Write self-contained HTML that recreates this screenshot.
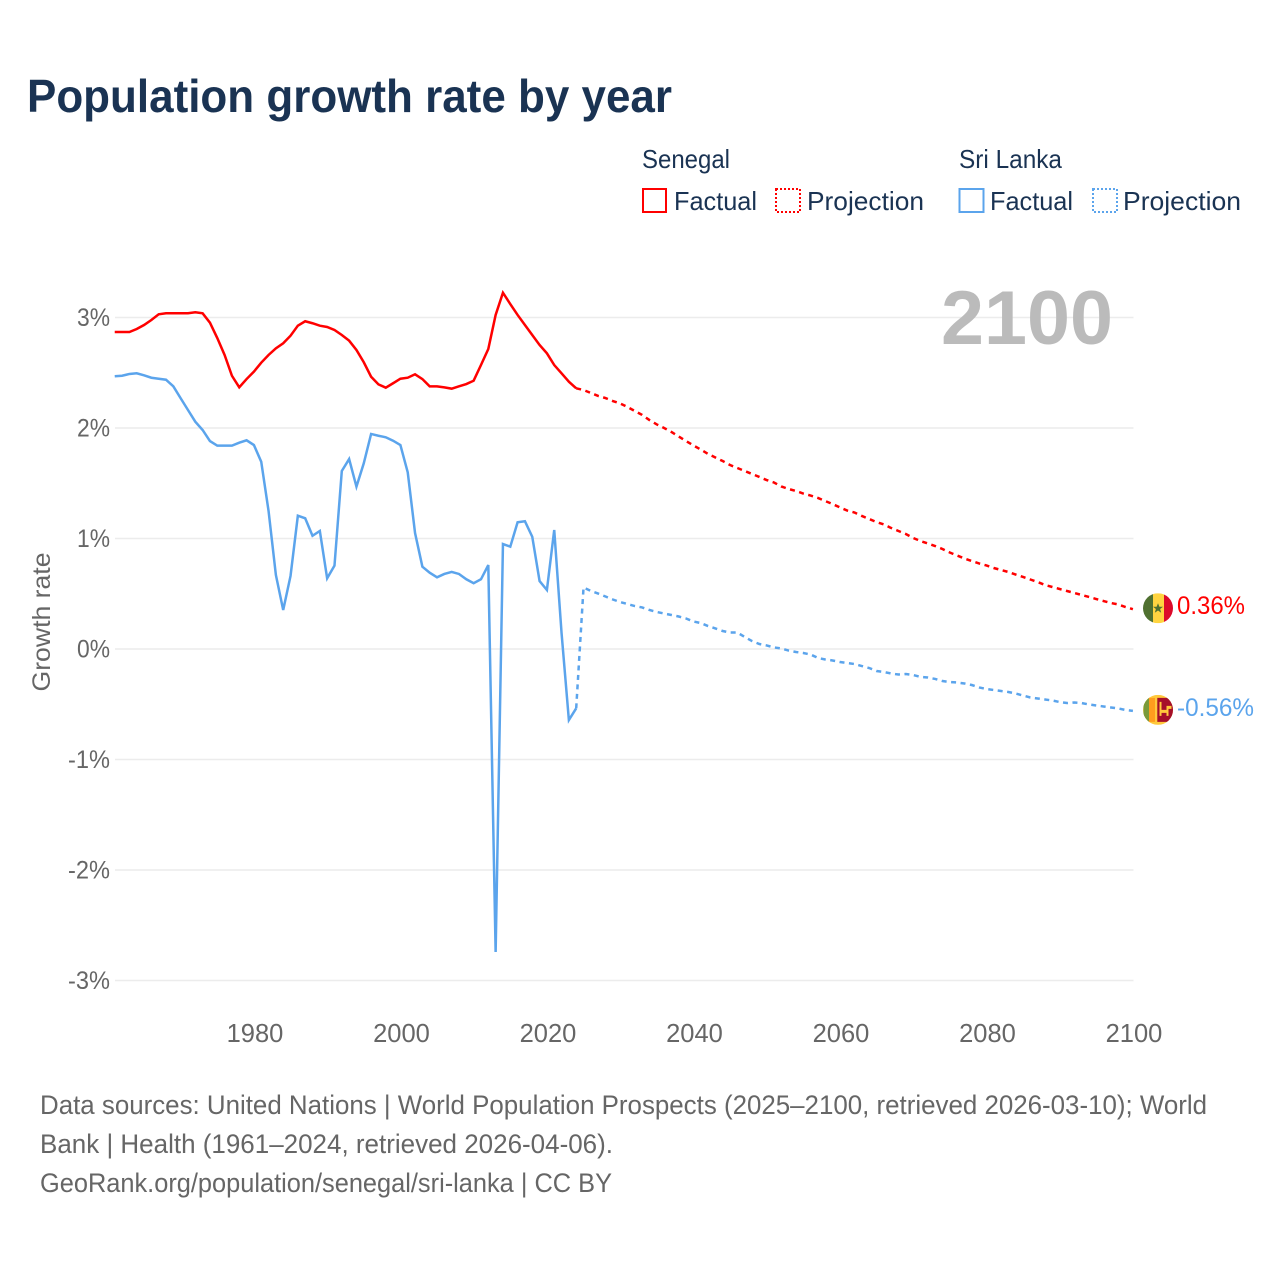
<!DOCTYPE html>
<html lang="en">
<head>
<meta charset="utf-8">
<title>Population growth rate by year</title>
<style>
html,body{margin:0;padding:0;background:#fff;}
svg{display:block;font-family:"Liberation Sans",sans-serif;}
</style>
</head>
<body>
<svg id="chart" width="1280" height="1280" viewBox="0 0 1280 1280" xmlns="http://www.w3.org/2000/svg">
  <rect x="0" y="0" width="1280" height="1280" fill="#ffffff"/>
  <text x="27" y="112" font-size="46" font-weight="700" fill="#1a3353" textLength="645" lengthAdjust="spacingAndGlyphs">Population growth rate by year</text>

  <g font-size="26" fill="#1a3353">
    <text x="642" y="168" textLength="88" lengthAdjust="spacingAndGlyphs">Senegal</text>
    <rect x="643" y="189" width="23" height="23" fill="none" stroke="#ff0000" stroke-width="2"/>
    <text x="674" y="210" textLength="83" lengthAdjust="spacingAndGlyphs">Factual</text>
    <rect x="776" y="189" width="24" height="23" fill="none" stroke="#ff0000" stroke-width="2" stroke-dasharray="2 2"/>
    <text x="807" y="210" textLength="117" lengthAdjust="spacingAndGlyphs">Projection</text>
    <text x="959" y="168" textLength="103" lengthAdjust="spacingAndGlyphs">Sri Lanka</text>
    <rect x="959.5" y="189" width="24" height="23" fill="none" stroke="#5ba4ec" stroke-width="2"/>
    <text x="990" y="210" textLength="83" lengthAdjust="spacingAndGlyphs">Factual</text>
    <rect x="1093" y="189" width="24" height="23" fill="none" stroke="#5ba4ec" stroke-width="2" stroke-dasharray="2 2"/>
    <text x="1123" y="210" textLength="118" lengthAdjust="spacingAndGlyphs">Projection</text>
  </g>

  <g id="grid"></g>
  <g id="yTicks" font-size="25" fill="#666666"></g>
  <g id="xTicks" font-size="25.5" fill="#666666"></g>

  <text transform="translate(50 622) rotate(-90)" text-anchor="middle" font-size="25" fill="#666666" textLength="139" lengthAdjust="spacingAndGlyphs">Growth rate</text>

  <text x="941" y="344" font-size="76" font-weight="700" fill="#bbbbbb" textLength="172" lengthAdjust="spacingAndGlyphs">2100</text>

  <g id="series"></g>

  <defs>
    <clipPath id="flagClip"><circle cx="0" cy="0" r="15"/></clipPath>
  </defs>

  <g id="flagSenegal">
    <g clip-path="url(#flagClip)">
      <rect x="-15" y="-15" width="10" height="30" fill="#4f7030"/>
      <rect x="-5" y="-15" width="11" height="30" fill="#ffd440"/>
      <rect x="6" y="-15" width="9" height="30" fill="#dc0a2a"/>
      <polygon points="0,-5 1.4,-1.5 5,-1.5 2.1,0.8 3.2,4.5 0,2.3 -3.2,4.5 -2.1,0.8 -5,-1.5 -1.4,-1.5" fill="#4f7030"/>
    </g>
  </g>

  <g id="flagSriLanka">
    <g clip-path="url(#flagClip)">
      <rect x="-15" y="-15" width="30" height="30" fill="#ffc93c"/>
      <rect x="-14.5" y="-12" width="5.5" height="24" fill="#7a9a3a"/>
      <rect x="-9" y="-12" width="6" height="24" fill="#ff9d1e"/>
      <rect x="-0.7" y="-12" width="15.7" height="24" fill="#a50f2a"/>
      <path d="M1.5 -8h2v8h5v-4h5v3h-3v7h-2v-3h-5v3h-2z" fill="#ffc93c"/>
    </g>
  </g>

  <g font-size="26.5" fill="#666666">
    <text x="40" y="1114" textLength="1167" lengthAdjust="spacingAndGlyphs">Data sources: United Nations | World Population Prospects (2025–2100, retrieved 2026-03-10); World</text>
    <text x="40" y="1153" textLength="573" lengthAdjust="spacingAndGlyphs">Bank | Health (1961–2024, retrieved 2026-04-06).</text>
    <text x="40" y="1192" textLength="572" lengthAdjust="spacingAndGlyphs">GeoRank.org/population/senegal/sri-lanka | CC BY</text>
  </g>
</svg>

<script>
const xTickLabels = [1980, 2000, 2020, 2040, 2060, 2080, 2100];
const yTickValues = [3, 2, 1, 0, -1, -2, -3];
const yTickLabels = ['3%', '2%', '1%', '0%', '-1%', '-2%', '-3%'];
const factualStartYear = 1961;
const projectionStartYear = 2025;

const senegalFactual = [
  2.869, 2.869, 2.869, 2.896, 2.932, 2.977, 3.029, 3.038, 3.038, 3.038,
  3.038, 3.047, 3.038, 2.953, 2.814, 2.661, 2.473, 2.368, 2.443, 2.510,
  2.591, 2.661, 2.721, 2.767, 2.835, 2.926, 2.966, 2.948, 2.926, 2.914,
  2.887, 2.842, 2.790, 2.706, 2.595, 2.464, 2.395, 2.365, 2.405, 2.446,
  2.455, 2.486, 2.443, 2.377, 2.377, 2.368, 2.356, 2.377, 2.398, 2.428,
  2.570, 2.715, 3.023, 3.224, 3.122, 3.023, 2.932, 2.842, 2.751, 2.676,
  2.570, 2.495, 2.419, 2.359
];
const senegalProjection = [
  2.344, 2.317, 2.290, 2.271, 2.244, 2.222, 2.190, 2.154, 2.118, 2.072,
  2.032, 2.000, 1.964, 1.923, 1.882, 1.842, 1.805, 1.765, 1.733, 1.701,
  1.665, 1.638, 1.611, 1.584, 1.557, 1.529, 1.507, 1.471, 1.448, 1.430,
  1.407, 1.389, 1.367, 1.339, 1.312, 1.281, 1.253, 1.235, 1.204, 1.176,
  1.149, 1.127, 1.095, 1.068, 1.041, 1.005, 0.977, 0.955, 0.932, 0.905,
  0.873, 0.846, 0.819, 0.796, 0.774, 0.756, 0.733, 0.715, 0.697, 0.674,
  0.652, 0.629, 0.606, 0.579, 0.561, 0.543, 0.525, 0.507, 0.489, 0.471,
  0.452, 0.434, 0.416, 0.403, 0.380, 0.360
];
const sriLankaFactual = [
  2.468, 2.473, 2.489, 2.495, 2.477, 2.455, 2.446, 2.437, 2.377, 2.269,
  2.163, 2.057, 1.982, 1.882, 1.840, 1.840, 1.840, 1.867, 1.889, 1.846,
  1.695, 1.250, 0.670, 0.353, 0.661, 1.206, 1.183, 1.025, 1.068, 0.640,
  0.754, 1.611, 1.719, 1.469, 1.681, 1.946, 1.930, 1.916, 1.885, 1.846,
  1.599, 1.050, 0.745, 0.690, 0.649, 0.679, 0.697, 0.679, 0.631, 0.595,
  0.631, 0.760, -2.742, 0.950, 0.926, 1.147, 1.156, 1.016, 0.615, 0.534,
  1.077, 0.145, -0.643, -0.537
];
const sriLankaProjection = [
  0.557, 0.525, 0.502, 0.475, 0.448, 0.425, 0.407, 0.389, 0.376, 0.353,
  0.335, 0.321, 0.308, 0.294, 0.276, 0.249, 0.235, 0.208, 0.186, 0.163,
  0.149, 0.149, 0.109, 0.072, 0.045, 0.032, 0.014, 0.005, -0.014, -0.027,
  -0.036, -0.050, -0.081, -0.095, -0.104, -0.118, -0.127, -0.136, -0.154, -0.172,
  -0.199, -0.208, -0.222, -0.231, -0.226, -0.235, -0.253, -0.258, -0.271, -0.290,
  -0.299, -0.303, -0.312, -0.326, -0.348, -0.362, -0.371, -0.380, -0.389, -0.403,
  -0.421, -0.439, -0.448, -0.457, -0.466, -0.480, -0.489, -0.484, -0.489, -0.502,
  -0.511, -0.520, -0.529, -0.538, -0.552, -0.560
];

const NS = 'http://www.w3.org/2000/svg';
const RED = '#ff0000';
const BLUE = '#5ba4ec';
const xScale = function (year) { return 1132.9 - (2100 - year) * 7.325; };
const yScale = function (value) { return 649 - value * 110.5; };

function make(tag, parent) {
  const el = document.createElementNS(NS, tag);
  parent.appendChild(el);
  return el;
}

function linePath(values, startYear, previous) {
  const pts = values.map(function (v, i) {
    return xScale(startYear + i).toFixed(2) + ' ' + yScale(v).toFixed(2);
  });
  if (previous !== undefined) {
    pts.unshift(xScale(startYear - 1).toFixed(2) + ' ' + yScale(previous).toFixed(2));
  }
  return 'M' + pts.join('L');
}

const gridGroup = document.getElementById('grid');
const yTickGroup = document.getElementById('yTicks');
yTickValues.forEach(function (v, i) {
  const line = make('line', gridGroup);
  
  
  line.setAttribute('x1', 115);
  line.setAttribute('x2', 1133.5);
  line.setAttribute('y1', yScale(v));
  line.setAttribute('y2', yScale(v));
  line.setAttribute('stroke', '#ececec');
  line.setAttribute('stroke-width', 1.5);

  const label = make('text', yTickGroup);
  
  
  const w = yTickLabels[i].length === 2 ? 33 : 42;
  label.setAttribute('x', 110 - w);
  label.setAttribute('y', yScale(v) + 8.5);
  label.setAttribute('textLength', w);
  label.setAttribute('lengthAdjust', 'spacingAndGlyphs');
  label.textContent = yTickLabels[i];
});

const xTickGroup = document.getElementById('xTicks');
xTickLabels.forEach(function (year) {
  const label = make('text', xTickGroup);
  
  
  label.setAttribute('x', xScale(year) + 1.1);
  label.setAttribute('y', 1042);
  label.setAttribute('text-anchor', 'middle');
  label.textContent = year;
});

const seriesGroup = document.getElementById('series');

const senegalFactualLine = make('path', seriesGroup);


senegalFactualLine.setAttribute('d', linePath(senegalFactual, factualStartYear));
senegalFactualLine.setAttribute('fill', 'none');
senegalFactualLine.setAttribute('stroke', RED);
senegalFactualLine.setAttribute('stroke-width', 2.5);

const senegalProjectionLine = make('path', seriesGroup);


senegalProjectionLine.setAttribute('d', linePath(senegalProjection, projectionStartYear, senegalFactual[senegalFactual.length - 1]));
senegalProjectionLine.setAttribute('fill', 'none');
senegalProjectionLine.setAttribute('stroke', RED);
senegalProjectionLine.setAttribute('stroke-width', 2.5);
senegalProjectionLine.setAttribute('stroke-dasharray', '5 4.5');

const sriLankaFactualLine = make('path', seriesGroup);


sriLankaFactualLine.setAttribute('d', linePath(sriLankaFactual, factualStartYear));
sriLankaFactualLine.setAttribute('fill', 'none');
sriLankaFactualLine.setAttribute('stroke', BLUE);
sriLankaFactualLine.setAttribute('stroke-width', 2.5);

const sriLankaProjectionLine = make('path', seriesGroup);


sriLankaProjectionLine.setAttribute('d', linePath(sriLankaProjection, projectionStartYear, sriLankaFactual[sriLankaFactual.length - 1]));
sriLankaProjectionLine.setAttribute('fill', 'none');
sriLankaProjectionLine.setAttribute('stroke', BLUE);
sriLankaProjectionLine.setAttribute('stroke-width', 2.5);
sriLankaProjectionLine.setAttribute('stroke-dasharray', '5 4.5');

const senegalLast = senegalProjection[senegalProjection.length - 1];
const sriLankaLast = sriLankaProjection[sriLankaProjection.length - 1];
const markerX = xScale(2100) + 25.1;

document.getElementById('flagSenegal').setAttribute('transform', 'translate(' + markerX + ' ' + (yScale(senegalLast) - 1) + ')');
document.getElementById('flagSriLanka').setAttribute('transform', 'translate(' + markerX + ' ' + (yScale(sriLankaLast) - 1) + ')');

const senegalEnd = make('text', seriesGroup);


senegalEnd.setAttribute('x', 1177);
senegalEnd.setAttribute('y', yScale(senegalLast) + 5);
senegalEnd.setAttribute('font-size', 25);
senegalEnd.setAttribute('fill', RED);
senegalEnd.setAttribute('textLength', 68);
senegalEnd.setAttribute('lengthAdjust', 'spacingAndGlyphs');
senegalEnd.textContent = senegalLast.toFixed(2) + '%';

const sriLankaEnd = make('text', seriesGroup);


sriLankaEnd.setAttribute('x', 1177);
sriLankaEnd.setAttribute('y', yScale(sriLankaLast) + 5);
sriLankaEnd.setAttribute('font-size', 25);
sriLankaEnd.setAttribute('fill', BLUE);
sriLankaEnd.setAttribute('textLength', 77);
sriLankaEnd.setAttribute('lengthAdjust', 'spacingAndGlyphs');
sriLankaEnd.textContent = sriLankaLast.toFixed(2) + '%';
</script>
</body>
</html>
